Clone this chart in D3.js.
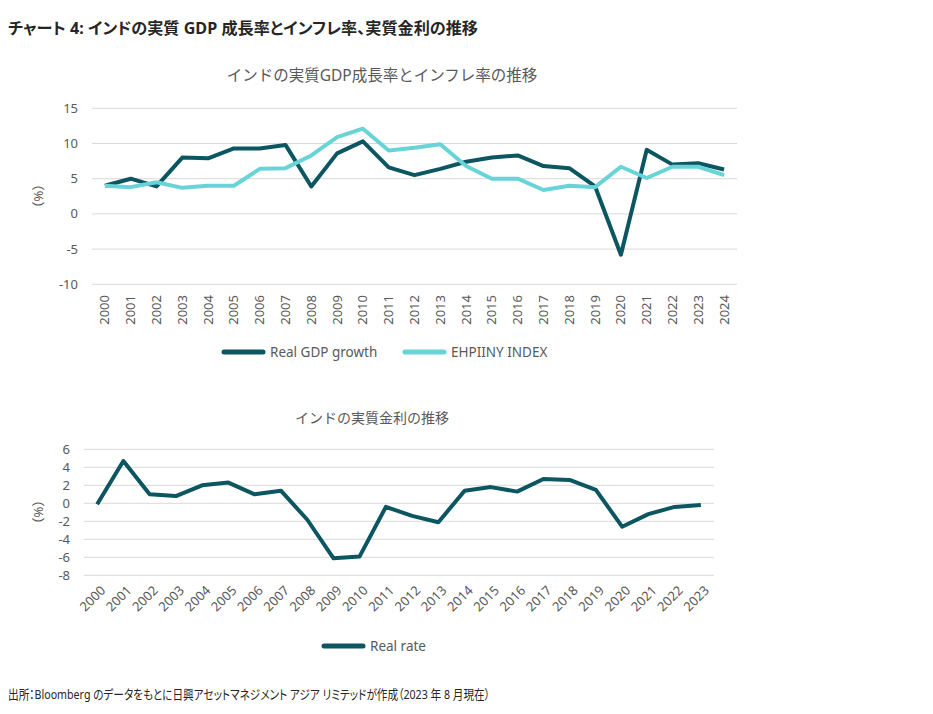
<!DOCTYPE html>
<html>
<head>
<meta charset="utf-8">
<script src="https://cdn.jsdelivr.net/npm/d3@7"></script>
<style>
  body { margin: 0; background: #fff; }
  svg { font-family: "Noto Sans", "Noto Sans CJK JP", sans-serif; }
  .palt { font-feature-settings: "palt"; }
</style>
</head>
<body>
<div id="chart"></div>
<script>
// data
const years = d3.range(2000, 2025).map(String);
const gdpGrowth = [4.0, 5.0, 3.9, 8.0, 7.9, 9.3, 9.3, 9.8, 3.9, 8.6, 10.3, 6.6, 5.5, 6.4, 7.4, 8.0, 8.3, 6.8, 6.5, 3.9, -5.8, 9.1, 7.0, 7.2, 6.3];
const inflation = [4.0, 3.8, 4.5, 3.7, 4.0, 4.0, 6.4, 6.5, 8.3, 10.9, 12.1, 9.0, 9.4, 9.9, 6.8, 5.0, 5.0, 3.4, 4.0, 3.8, 6.7, 5.1, 6.7, 6.7, 5.5];
const rateYears = d3.range(2000, 2024).map(String);
const realRate = [-0.1, 4.7, 1.0, 0.8, 2.0, 2.3, 1.0, 1.4, -1.8, -6.1, -5.9, -0.4, -1.4, -2.1, 1.4, 1.8, 1.3, 2.7, 2.6, 1.5, -2.6, -1.2, -0.4, -0.2];
const topTicks = [15, 10, 5, 0, -5, -10];
const bottomTicks = [6, 4, 2, 0, -2, -4, -6, -8];

const dark = "#0b5661";
const light = "#68d4d7";
const textColor = "#595959";

let svg = d3.select("#chart").append("svg")
  .attr("width", 933)
  .attr("height", 714);

// main title and footer
svg.append("text")
  .attr("class", "palt")
  .attr("x", 8).attr("y", 34)
  .attr("font-size", 16).attr("font-weight", "bold")
  .attr("fill", "#262626")
  .attr("textLength", 470).attr("lengthAdjust", "spacingAndGlyphs")
  .text("チャート 4: インドの実質 GDP 成長率とインフレ率、実質金利の推移");

svg.append("text")
  .attr("class", "palt")
  .attr("x", 8).attr("y", 699)
  .attr("font-size", 13)
  .attr("fill", "#262626")
  .attr("textLength", 482).attr("lengthAdjust", "spacingAndGlyphs")
  .text("出所：Bloomberg のデータをもとに日興アセットマネジメント アジア リミテッドが作成（2023 年 8 月現在）");

// draw one panel
function drawPanel(opt) {
  let x = d3.scaleBand().domain(opt.cats).range([opt.x0, opt.x1]);
  let y = d3.scaleLinear().domain(opt.domain).range([opt.y0, opt.y1]);
  let g = svg.append("g");

  g.append("text")
    .attr("x", opt.titleX).attr("y", opt.titleY)
    .attr("text-anchor", "middle")
    .attr("font-size", opt.titleSize).attr("fill", textColor)
    .text(opt.title);

  // gridlines
  g.selectAll("line.grid")
    .data(opt.ticks)
    .enter().append("line")
    .attr("class", "grid")
    .attr("x1", opt.x0).attr("x2", opt.x1)
    .attr("y1", d => y(d)).attr("y2", d => y(d))
    .attr("stroke", "#d9d9d9").attr("stroke-width", 1);

  // y tick labels
  g.selectAll("text.ytick")
    .data(opt.ticks)
    .enter().append("text")
    .attr("class", "ytick")
    .attr("x", opt.x0 - 14).attr("y", d => y(d))
    .attr("dy", "0.35em")
    .attr("text-anchor", "end")
    .attr("font-size", 13).attr("fill", textColor)
    .text(d => d);

  // y axis unit
  g.append("text")
    .attr("transform", "translate(" + opt.unitX + "," + opt.unitY + ") rotate(-90)")
    .attr("text-anchor", "middle")
    .attr("font-size", 13).attr("fill", textColor)
    .text("（%）");

  // x labels
  g.selectAll("text.xtick")
    .data(opt.cats)
    .enter().append("text")
    .attr("class", "xtick")
    .attr("transform", d => "translate(" + (x(d) + x.bandwidth() / 2 + opt.labelDx) + "," + opt.labelY + ") rotate(" + opt.angle + ")")
    .attr("text-anchor", "end")
    .attr("dy", "0.35em")
    .attr("font-size", 13).attr("fill", textColor)
    .text(d => d);

  let line = d3.line()
    .x((d, i) => x(opt.cats[i]) + x.bandwidth() / 2)
    .y(d => y(d));

  opt.series.forEach(function (s) {
    g.append("path")
      .datum(s.values)
      .attr("d", line)
      .attr("fill", "none")
      .attr("stroke", s.color)
      .attr("stroke-width", 4)
      .attr("stroke-linejoin", "round");
  });

  // legend
  opt.series.forEach(function (s, i) {
    let lx = opt.legendX[i];
    g.append("line")
      .attr("x1", lx).attr("x2", lx + 39)
      .attr("y1", opt.legendY).attr("y2", opt.legendY)
      .attr("stroke", s.color).attr("stroke-width", 5)
      .attr("stroke-linecap", "round");
    g.append("text")
      .attr("x", lx + 46).attr("y", opt.legendY)
      .attr("dy", "0.35em")
      .attr("font-size", 13.5).attr("fill", textColor)
      .text(s.name);
  });
}

drawPanel({
  cats: years,
  x0: 92, x1: 737,
  domain: [-10, 15], y0: 284.3, y1: 108.3,
  ticks: topTicks,
  title: "インドの実質GDP成長率とインフレ率の推移",
  titleSize: 15.5, titleX: 382, titleY: 81,
  unitX: 43, unitY: 196,
  labelY: 295, labelDx: 0, angle: -90,
  series: [
    { name: "Real GDP growth", values: gdpGrowth, color: dark },
    { name: "EHPIINY INDEX", values: inflation, color: light }
  ],
  legendX: [224, 405],
  legendY: 352
});

drawPanel({
  cats: rateYears,
  x0: 84, x1: 714,
  domain: [-8, 6], y0: 575.3, y1: 449.3,
  ticks: bottomTicks,
  title: "インドの実質金利の推移",
  titleSize: 14, titleX: 372, titleY: 423,
  unitX: 43, unitY: 512,
  labelY: 588, labelDx: 6, angle: -45,
  series: [
    { name: "Real rate", values: realRate, color: dark }
  ],
  legendX: [324],
  legendY: 646
});
</script>
</body>
</html>
